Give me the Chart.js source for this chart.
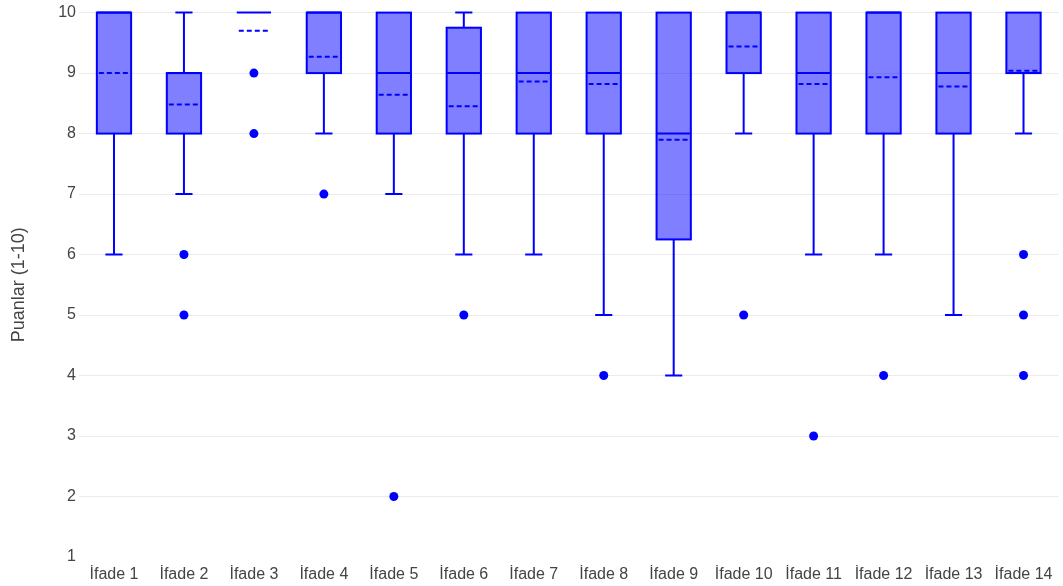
<!DOCTYPE html>
<html>
<head>
<meta charset="utf-8">
<script src="https://cdn.jsdelivr.net/npm/chart.js@4/dist/chart.umd.min.js"></script>
<style>
html,body{margin:0;padding:0;background:#fff}
#wrap{width:1063px;height:586px}
</style>
</head>
<body>
<div id="wrap"><canvas id="boxChart"></canvas></div>
<script>
const labels = ["İfade 1","İfade 2","İfade 3","İfade 4","İfade 5","İfade 6","İfade 7","İfade 8","İfade 9","İfade 10","İfade 11","İfade 12","İfade 13","İfade 14"]

const q1 =      [8, 8, 10, 9, 8, 8,    8, 8, 6.25, 9, 8, 8, 8, 9]
const q3 =      [10, 9, 10, 10, 10, 9.75, 10, 10, 10, 10, 10, 10, 10, 10]
const medians = [10, 9, 10, 10, 9, 9,  9, 9, 8, 10, 9, 10, 9, 9]
const means =   [9.0, 8.48, 9.7, 9.27, 8.64, 8.45, 8.86, 8.82, 7.9, 9.44, 8.82, 8.93, 8.78, 9.04]
const whiskerLow =  [6, 7, 10, 8, 7, 6, 6, 5, 4, 8, 6, 6, 5, 8]
const whiskerHigh = [10, 10, 10, 10, 10, 10, 10, 10, 10, 10, 10, 10, 10, 10]
const outliers = [[], [6,5], [9,8], [7], [2], [5], [], [4], [], [5], [3], [4], [], [6,5,4]]

const yTicks = [1,2,3,4,5,6,7,8,9,10]

const blue = "#0000ff"
const fill = "rgba(0,0,255,0.5)"

const outlierPoints = []
outliers.forEach((list, i) => {
list.forEach(v => outlierPoints.push({x: labels[i], y: v}))
})

// box outline, whiskers, caps, median and mean lines drawn over the filled bars
const boxExtras = {
id: "boxExtras",
afterDatasetsDraw(chart){
const ctx = chart.ctx
const x = chart.scales.x
const y = chart.scales.y
const bars = chart.getDatasetMeta(0).data
ctx.save()
ctx.strokeStyle = blue
ctx.lineWidth = 2
labels.forEach((l, i) => {
const cx = x.getPixelForValue(i)
const w = bars[i].width
const half = w / 2
const capHalf = w / 4
const top = y.getPixelForValue(q3[i])
const bottom = y.getPixelForValue(q1[i])

// box outline
if(q3[i] > q1[i]){
ctx.strokeRect(cx - half, top, w, bottom - top)
}

// lower whisker
if(whiskerLow[i] < q1[i]){
const wy = y.getPixelForValue(whiskerLow[i])
ctx.beginPath()
ctx.moveTo(cx, bottom)
ctx.lineTo(cx, wy)
ctx.moveTo(cx - capHalf, wy)
ctx.lineTo(cx + capHalf, wy)
ctx.stroke()
}
// upper whisker
if(whiskerHigh[i] > q3[i]){
const wy = y.getPixelForValue(whiskerHigh[i])
ctx.beginPath()
ctx.moveTo(cx, top)
ctx.lineTo(cx, wy)
ctx.moveTo(cx - capHalf, wy)
ctx.lineTo(cx + capHalf, wy)
ctx.stroke()
}

// median
const my = y.getPixelForValue(medians[i])
ctx.beginPath()
ctx.moveTo(cx - half, my)
ctx.lineTo(cx + half, my)
ctx.stroke()

// mean (dashed)
const ay = y.getPixelForValue(means[i])
ctx.setLineDash([5, 3])
ctx.beginPath()
ctx.moveTo(cx - half + 2, ay)
ctx.lineTo(cx + half - 2, ay)
ctx.stroke()
ctx.setLineDash([])
})
ctx.restore()
}
}

new Chart(
document.getElementById("boxChart"),
{
type:"bar",
data:{
labels:labels,
datasets:[
{
type:"bar",
label:"Kutular",
data:labels.map((l, i) => [q1[i], q3[i]]),
backgroundColor:fill,
borderWidth:0,
barPercentage:0.49,
categoryPercentage:1,
clip:false
},
{
type:"line",
label:"Aykırı değerler",
data:outlierPoints,
showLine:false,
pointRadius:4.5,
pointBackgroundColor:blue,
pointBorderWidth:0,
clip:false
}
]
},
options:{
responsive:true,
maintainAspectRatio:false,
animation:false,
events:[],
layout:{padding:{top:11, right:3, left:0, bottom:0}},
plugins:{
legend:{display:false},
tooltip:{enabled:false}
},
scales:{
x:{
grid:{display:false},
border:{display:false},
ticks:{
color:"#444",
font:{family:"Liberation Sans", size:16},
padding:0,
maxRotation:0,
autoSkip:false
},
afterFit(scale){ scale.height = 29 }
},
y:{
min:1,
max:10,
afterBuildTicks(scale){ scale.ticks = yTicks.map(v => ({value:v})) },
grid:{
color:ctx => ctx.tick && ctx.tick.value === 1 ? "rgba(0,0,0,0)" : "#ebebeb",
lineWidth:1,
drawTicks:false
},
border:{display:false},
ticks:{
color:"#444",
font:{family:"Liberation Sans", size:16},
padding:3
},
title:{
display:true,
text:"Puanlar (1-10)",
color:"#444",
font:{family:"Liberation Sans", size:18},
padding:{top:8, bottom:10}
},
afterFit(scale){ scale.width = 79 }
}
}
},
plugins:[boxExtras]
}
)
</script>
</body>
</html>
